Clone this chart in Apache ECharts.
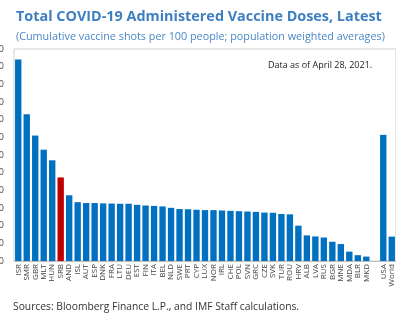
<!DOCTYPE html>
<html>
<head>
<meta charset="utf-8">
<script src="https://cdn.jsdelivr.net/npm/echarts@6/dist/echarts.min.js"></script>
<style>
  html, body { margin: 0; padding: 0; background: #fff; }
  #chart { width: 396px; height: 314px; }
</style>
</head>
<body>
<div id="chart"></div>
<script>
// Doses per 100 people
const countries = ['ISR', 'SMR', 'GBR', 'MLT', 'HUN', 'SRB', 'AND', 'ISL', 'AUT', 'ESP',
  'DNK', 'FRA', 'LTU', 'DEU', 'EST', 'FIN', 'ITA', 'BEL', 'NLD', 'SWE',
  'PRT', 'CYP', 'LUX', 'NOR', 'IRL', 'CHE', 'POL', 'SVN', 'GRC', 'CZE',
  'SVK', 'TUR', 'ROU', 'HRV', 'ALB', 'LVA', 'RUS', 'BGR', 'MNE', 'MDA',
  'BLR', 'MKD', '', 'USA', 'World'];
const doses = [114, 83, 71, 63, 57, 47.3, 37.2, 33.3, 32.8, 32.8,
  32.6, 32.5, 32.4, 32.4, 31.8, 31.4, 31.2, 30.9, 30.1, 29.4,
  29.3, 29.0, 28.8, 28.8, 28.6, 28.4, 28.2, 28.0, 27.8, 27.4,
  27.3, 26.6, 26.4, 20.0, 14.5, 13.9, 13.3, 10.9, 9.6, 5.3,
  3.3, 2.5, null, 71.4, 13.8];
const yTicks = { min: 0, max: 120, interval: 10 };
const highlight = 'SRB';

const blue = '#0070c0';
const red = '#c00000';

const chart = echarts.init(document.getElementById('chart'));
chart.setOption({
  animation: false,
  title: [
    {
      text: 'Total COVID-19 Administered Vaccine Doses, Latest',
      left: 11, top: 5,
      textStyle: { fontFamily: 'Open Sans', fontWeight: 'bold', fontSize: 14.4, color: '#3d7fc0' }
    },
    {
      text: '(Cumulative vaccine shots per 100 people; population weighted averages)',
      left: 11, top: 26,
      textStyle: { fontFamily: 'Open Sans', fontWeight: 'normal', fontSize: 10.8, color: '#4a88c6' }
    },
    {
      text: 'Data as of April 28, 2021.',
      left: 263, top: 56,
      textStyle: { fontFamily: 'Open Sans', fontWeight: 'normal', fontSize: 9, color: '#222' }
    },
    {
      text: 'Sources: Bloomberg Finance L.P., and IMF Staff calculations.',
      left: 8, top: 297,
      textStyle: { fontFamily: 'Open Sans', fontWeight: 'normal', fontSize: 10.3, color: '#333' }
    }
  ],
  grid: {
    left: 14, right: 0, top: 49, bottom: 53,
    containLabel: false, outerBoundsMode: 'none',
    show: true, borderColor: '#d0d0d0', borderWidth: 1
  },
  xAxis: {
    type: 'category',
    data: countries,
    axisLine: { lineStyle: { color: '#bbb' } },
    axisTick: { show: false },
    axisLabel: {
      interval: 0, rotate: 90, fontSize: 8, color: '#444', margin: 3,
      fontFamily: 'Open Sans'
    }
  },
  yAxis: {
    type: 'value',
    min: yTicks.min, max: yTicks.max, interval: yTicks.interval,
    splitLine: { show: false },
    axisLine: { show: false },
    axisTick: { show: false },
    axisLabel: { fontSize: 9, color: '#444', margin: 10, fontFamily: 'Open Sans' }
  },
  series: [{
    type: 'bar',
    barCategoryGap: '25%',
    data: doses.map((v, i) => ({
      value: v,
      itemStyle: { color: countries[i] === highlight ? red : blue }
    }))
  }]
});
</script>
</body>
</html>
